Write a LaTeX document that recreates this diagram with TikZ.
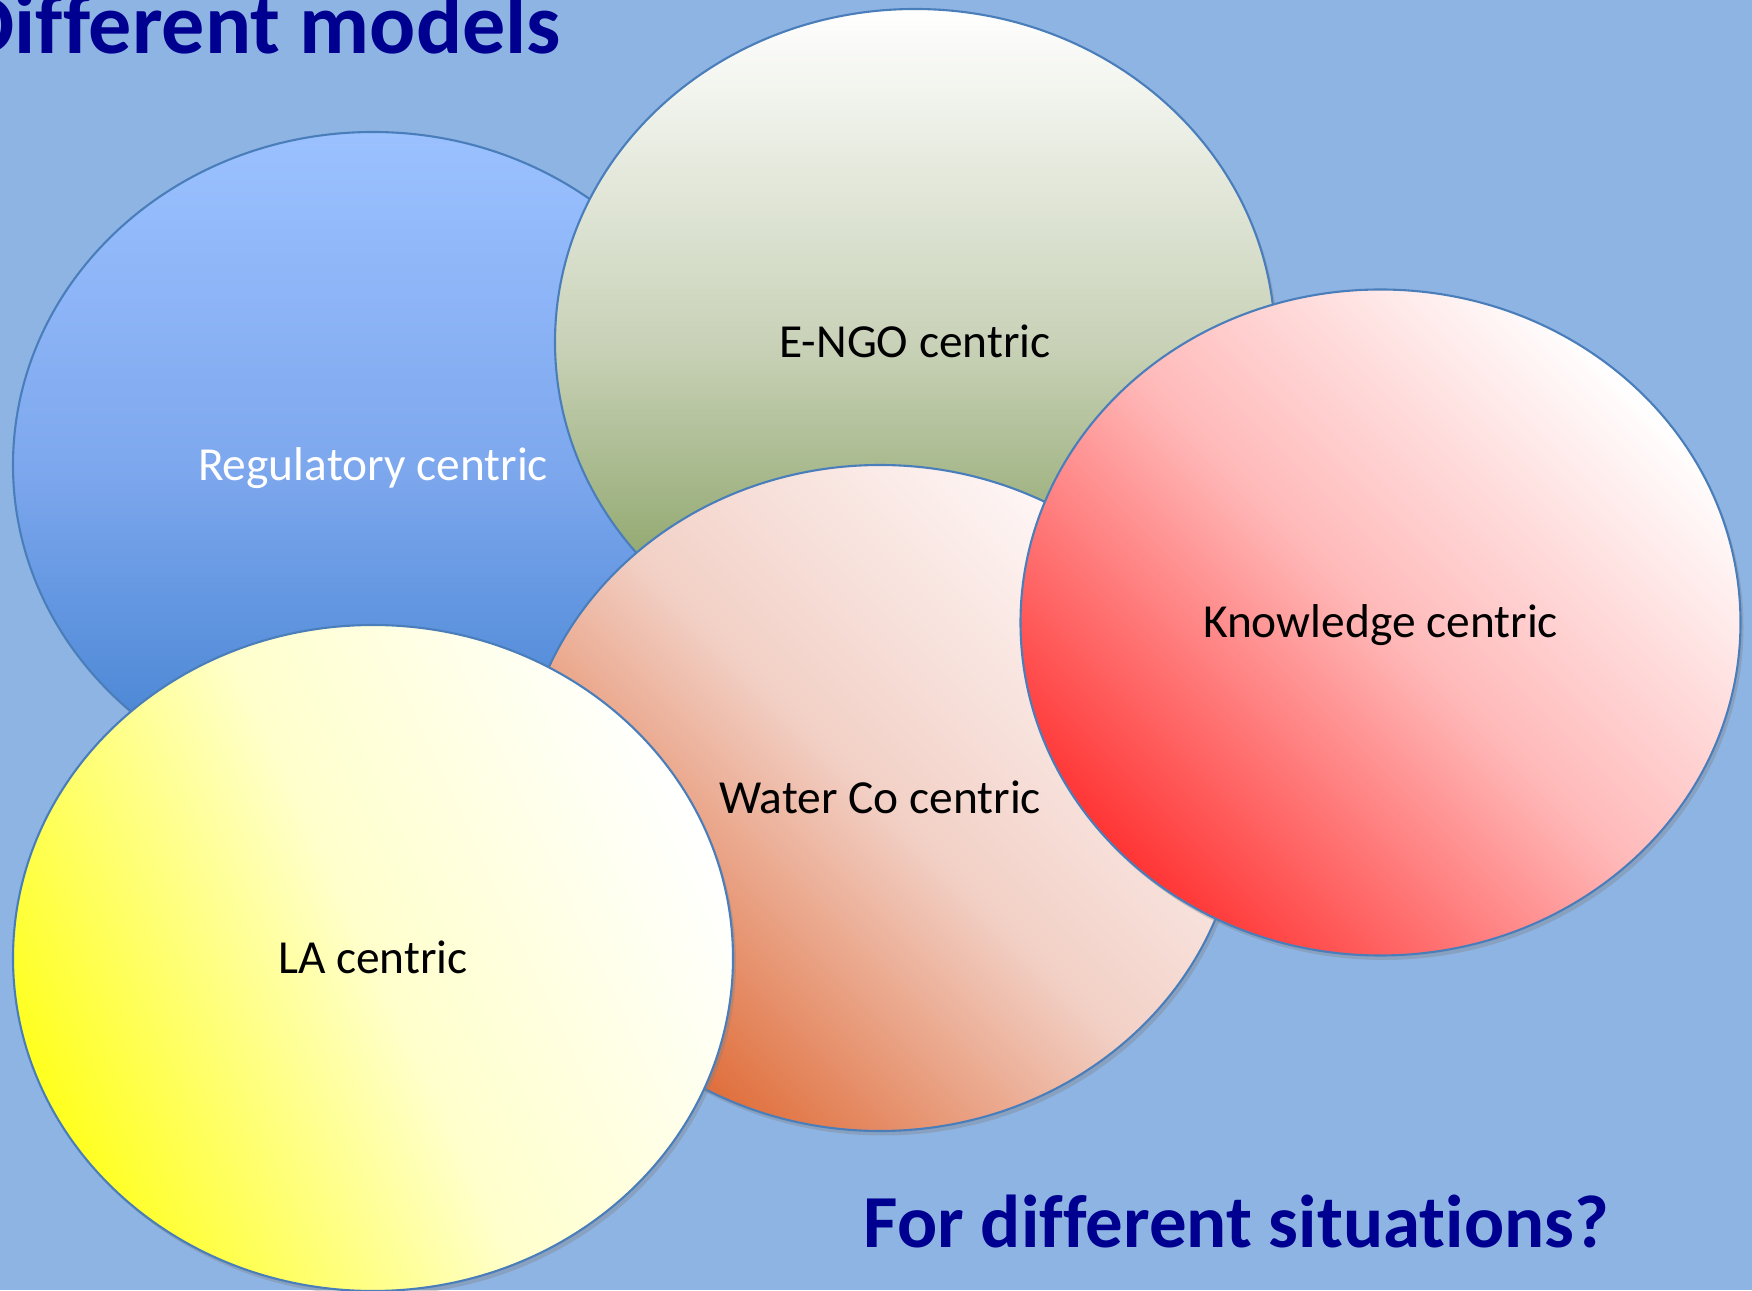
\documentclass[tikz,border=0pt]{standalone}
\usepackage{fontspec}
\setmainfont[Ligatures={NoCommon}]{Carlito}
\usetikzlibrary{shapes.geometric, shadows}

\definecolor{slide}{HTML}{8EB4E3}
\definecolor{rim}{HTML}{4A7EBB}
\definecolor{navy}{HTML}{000090}

\begin{document}
\begin{tikzpicture}[inner sep=0pt,
  model/.style = {ellipse, draw=rim, line width=0.6pt, minimum width=7.2cm, minimum height=6.66cm,
    font=\fontsize{13.5}{16}\selectfont, text height=1em, text depth=0.12em,
    drop shadow={shadow xshift=0.3mm, shadow yshift=-0.45mm, opacity=0.35}},
  heading/.style = {font=\fontsize{24.5}{28}\selectfont\bfseries, text=navy},
  regulatory/.style = {top color=HTML9BC1FF, bottom color=HTML3E7ECE, middle color=HTML7EA8EE, text=white},
  engo/.style = {top color=white, bottom color=HTML76934B, middle color=HTMLC9D2B8},
  waterco/.style = {top color=HTMLFFF8F8, bottom color=HTMLDF6A35, middle color=HTMLF2D0C6, shading angle=-45},
  knowledge/.style = {top color=white, bottom color=HTMLFF3535, middle color=HTMLFFB8B8, shading angle=-45},
  la/.style = {top color=white, bottom color=HTMLFFFF20, middle color=HTMLFFFFCC, shading angle=-65}]
  \definecolor{HTML9BC1FF}{HTML}{9BC1FF}
  \definecolor{HTML3E7ECE}{HTML}{3E7ECE}
  \definecolor{HTML7EA8EE}{HTML}{7EA8EE}
  \definecolor{HTML76934B}{HTML}{76934B}
  \definecolor{HTMLC9D2B8}{HTML}{C9D2B8}
  \definecolor{HTMLFFF8F8}{HTML}{FFF8F8}
  \definecolor{HTMLDF6A35}{HTML}{DF6A35}
  \definecolor{HTMLF2D0C6}{HTML}{F2D0C6}
  \definecolor{HTMLFF3535}{HTML}{FF3535}
  \definecolor{HTMLFFB8B8}{HTML}{FFB8B8}
  \definecolor{HTMLFFFF20}{HTML}{FFFF20}
  \definecolor{HTMLFFFFCC}{HTML}{FFFFCC}

  \useasboundingbox (0,0) rectangle (17.52,12.90);
  \fill[slide] (0,0) rectangle (17.52,12.90);

  % models, back to front
  \node[model, regulatory] (reg) at (3.73,8.25) {Regulatory centric};
  \node[model, engo] (engo) at (9.15,9.48) {E-NGO centric};
  \node[model, waterco] (water) at (8.80,4.92) {Water Co centric};
  \node[model, knowledge] (know) at (13.805,6.675) {Knowledge centric};
  \node[model, la] (la) at (3.73,3.32) {LA centric};

  \node[heading, anchor=base east] (title) at (5.62,12.36) {Different models};
  \node[heading, font=\fontsize{21.3}{25}\selectfont\bfseries, anchor=base west] (question) at (8.63,0.43) {For different situations?};
\end{tikzpicture}
\end{document}
